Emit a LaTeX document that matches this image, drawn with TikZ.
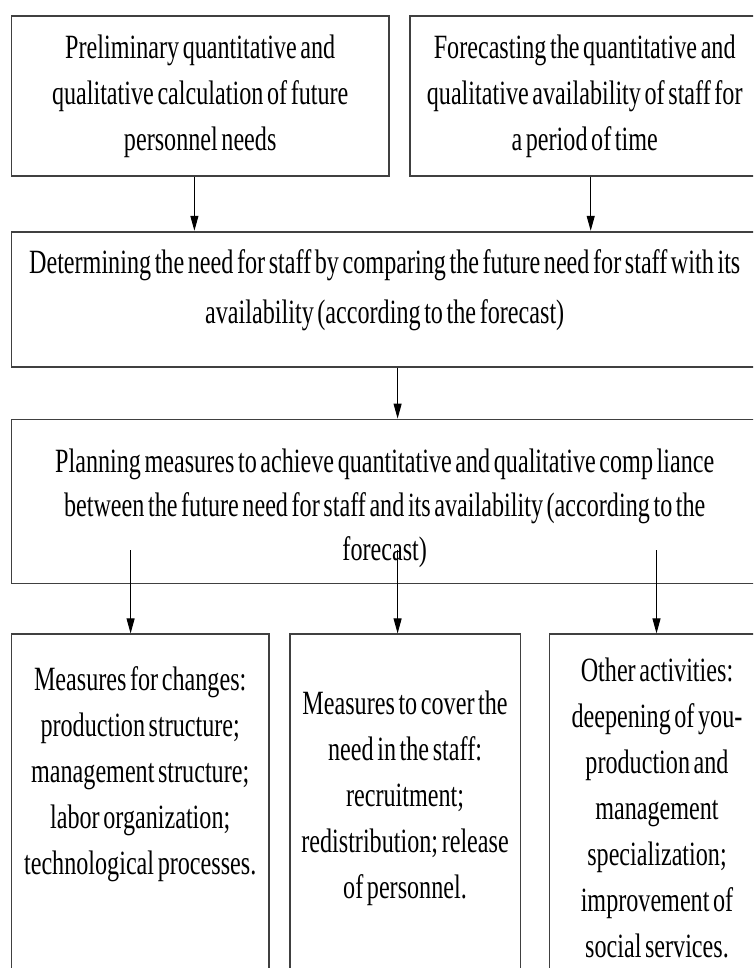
\documentclass[tikz,border=0pt]{standalone}
\usepackage{fontspec}
\setmainfont{Liberation Serif}[FakeStretch=0.71,WordSpace=0.6]
\usepackage{tikz}
\usetikzlibrary{arrows.meta,positioning,calc}

\begin{document}
\begin{tikzpicture}[
    x=1pt, y=-1pt,
    font=\fontsize{34}{46}\selectfont,
    frame/.style={
        % the boxes
        draw=black!75,
        line width=1.8pt,
        inner sep=0pt},
    caption/.style={
        % the texts inside
        align=center,
        inner sep=0pt},
    flow/.style={
        line width=1pt,
        -{Triangle[length=15pt,width=8pt]}}
  ]
  \clip (0,0) rectangle (753,968);
  % first row
  \node (prelim) [frame,minimum width=377.4pt,minimum height=160pt,anchor=north west] at (10.6,15) {};
  \node (forecast) [frame,minimum width=350pt,minimum height=160pt,right=19pt of prelim.north east,anchor=north west] {};
  % the two wide boxes
  \node (need) [frame,minimum width=746.4pt,minimum height=135pt,below=54pt of prelim.south west,anchor=north west] {};
  \node (plan) [frame,minimum width=746.4pt,minimum height=164pt,below=51pt of need.south west,anchor=north west] {};
  % last row
  \node (changes) [frame,minimum width=257.4pt,minimum height=380pt,below=49pt of plan.south west,anchor=north west] {};
  \node (cover) [frame,minimum width=230.7pt,minimum height=380pt,right=19pt of changes.north east,anchor=north west] {};
  \node (other) [frame,minimum width=215pt,minimum height=380pt,right=27.3pt of cover.north east,anchor=north west] {};

  \node (prelim text) [caption] at (prelim.center)
    {Preliminary quantitative and\\qualitative calculation of future\\personnel needs};
  \node (forecast text) [caption] at (forecast.center)
    {Forecasting the quantitative and\\qualitative availability of staff for\\a period of time};
  \node (need text) [caption,font=\fontsize{34}{50}\selectfont] at ($(need.center)+(0,-9.5)$)
    {Determining the need for staff by comparing the future need for staff with its\\availability (according to the forecast)};
  \node (plan text) [caption,font=\fontsize{34}{44}\selectfont] at ($(plan.center)+(0,7)$)
    {Planning measures to achieve quantitative and qualitative comp liance\\between the future need for staff and its availability (according to the\\forecast)};
  \node (changes text) [caption] at ($(changes.north)+(0,140.5)$)
    {Measures for changes:\\production structure;\\management structure;\\labor organization;\\technological processes.};
  \node (cover text) [caption] at ($(cover.north)+(0,164.5)$)
    {Measures to cover the\\need in the staff:\\recruitment;\\redistribution; release\\of personnel.};
  \node (other text) [caption] at ($(other.north)+(0,174.5)$)
    {Other activities:\\deepening of you-\\production and\\management\\specialization;\\improvement of\\social services.};

  % connectors
  \coordinate (col prelim) at (194.4,0);
  \coordinate (col forecast) at (590.7,0);
  \coordinate (col mid) at (397.6,0);
  \coordinate (split changes) at (130.6,550);
  \coordinate (split cover) at (397.6,550);
  \coordinate (split other) at (656.5,550);
  \draw [flow] (prelim.south -| col prelim) -- (need.north -| col prelim);
  \draw [flow] (forecast.south -| col forecast) -- (need.north -| col forecast);
  \draw [flow] (need.south -| col mid) -- (plan.north -| col mid);
  \draw [flow] (split changes) -- (split changes |- changes.north);
  \draw [flow] (split cover) -- (split cover |- cover.north);
  \draw [flow] (split other) -- (split other |- other.north);
\end{tikzpicture}
\end{document}
